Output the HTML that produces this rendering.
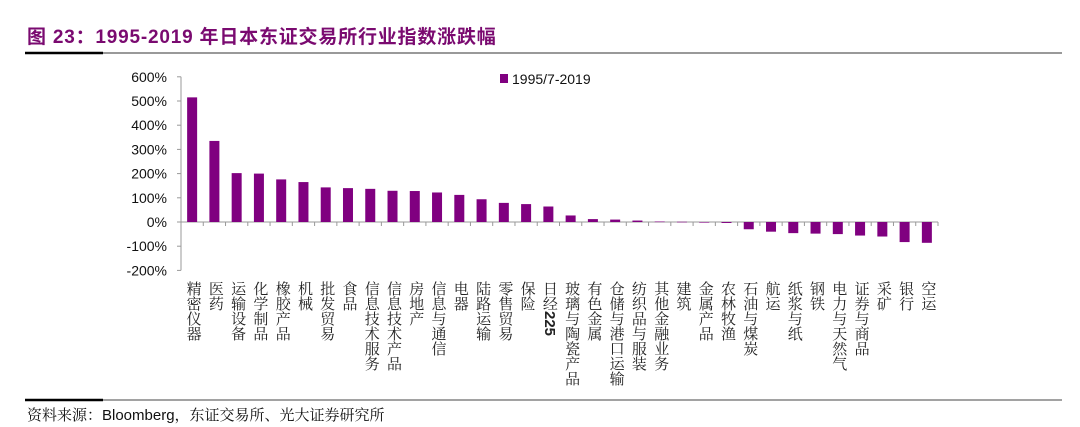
<!DOCTYPE html>
<html><head><meta charset="utf-8"><style>
html,body{margin:0;padding:0;background:#fff;width:1080px;height:427px;overflow:hidden;position:relative}
.title{position:absolute;left:27px;top:22px;font:bold 19px "Liberation Sans","Noto Sans CJK SC",sans-serif;color:#7a0a70;white-space:nowrap;letter-spacing:0.8px}
.src{position:absolute;left:27px;top:404px;font:15px "Liberation Sans","Noto Serif CJK SC","Noto Serif CJK JP",serif;color:#111;white-space:nowrap}
.lbl{position:absolute;top:281px;writing-mode:vertical-rl;font:15px "Liberation Serif","Noto Serif CJK SC","Noto Serif CJK JP",serif;line-height:15px;color:#222;white-space:nowrap}
.lbl b{font:bold 15px "Liberation Sans",sans-serif}
</style></head><body>
<div class="title">图 23：1995-2019 年日本东证交易所行业指数涨跌幅</div>
<svg width="1080" height="427" style="position:absolute;left:0;top:0" id="chart">
<line x1="25" y1="53" x2="1062" y2="53" stroke="#333" stroke-width="1"/>
<line x1="25" y1="53" x2="103" y2="53" stroke="#000" stroke-width="2.5"/>
<line x1="25" y1="400" x2="1062" y2="400" stroke="#444" stroke-width="1"/>
<line x1="25" y1="400" x2="103" y2="400" stroke="#000" stroke-width="2.5"/>
<rect x="500" y="74" width="8" height="9" fill="#800080"/>
<text x="512" y="84" font-family="Liberation Sans, sans-serif" font-size="14" fill="#111">1995/7-2019</text>
</svg>
<div class="src">资料来源：Bloomberg，东证交易所、光大证券研究所</div>
<script>
const categories=["精密仪器","医药","运输设备","化学制品","橡胶产品","机械","批发贸易","食品","信息技术服务","信息技术产品","房地产","信息与通信","电器","陆路运输","零售贸易","保险","日经225","玻璃与陶瓷产品","有色金属","仓储与港口运输","纺织品与服装","其他金融业务","建筑","金属产品","农林牧渔","石油与煤炭","航运","纸浆与纸","钢铁","电力与天然气","证券与商品","采矿","银行","空运"];
const values=[515,335,202,200,176,165,143,140,137,129,128,122,112,94,79,74,64,27,12,10,6,2,1,-2,-4,-30,-40,-46,-48,-50,-56,-60,-83,-86];
const tickValues=[600,500,400,300,200,100,0,-100,-200];
const tickLabels=["600%","500%","400%","300%","200%","100%","0%","-100%","-200%"];
const svg=document.getElementById('chart');
const NS='http://www.w3.org/2000/svg';
const x0=181,x1=938,yZero=222,pxPer=24.2/100;
const n=categories.length;
const step=(x1-x0)/n;
function yScale(v){return yZero-v*pxPer;}
function xCenter(i){return x0+step*(i+0.5);}
function mk(tag,attrs){const e=document.createElementNS(NS,tag);for(const k in attrs)e.setAttribute(k,attrs[k]);svg.appendChild(e);return e;}
let ax=mk('line',{x1:x0,y1:yScale(600),x2:x0,y2:yScale(-200),stroke:'#999','stroke-width':1});


tickValues.forEach((v,i)=>{
  const y=yScale(v);
  const t=mk('line',{x1:x0-4,y1:y,x2:x0,y2:y,stroke:'#999'});
  
  
  const tx=mk('text',{x:x0-14,y:y+5,'text-anchor':'end','font-family':'Liberation Sans, sans-serif','font-size':'14',fill:'#111'});
  tx.textContent=tickLabels[i];
  
  
});
let xa=mk('line',{x1:x0,y1:yZero,x2:x1,y2:yZero,stroke:'#999','stroke-width':1});


for(let i=0;i<=n;i++){
  const x=x0+step*i;
  const t=mk('line',{x1:x,y1:yZero,x2:x,y2:yZero+4,stroke:'#999'});
  
  
}
values.forEach((v,i)=>{
  const y=Math.min(yScale(v),yZero),h=Math.abs(v*pxPer);
  const r=mk('rect',{x:xCenter(i)-5,y:y,width:10,height:Math.max(h,0.6),fill:'#800080'});
  
  
  const d=document.createElement('div');
  d.className='lbl';
  d.style.left=(xCenter(i)-7.5)+'px';
  const c=categories[i];
  d.innerHTML=c.replace(/(\d+)/g,'<b>$1</b>');
  
  
  document.body.appendChild(d);
});
</script>
</body></html>
